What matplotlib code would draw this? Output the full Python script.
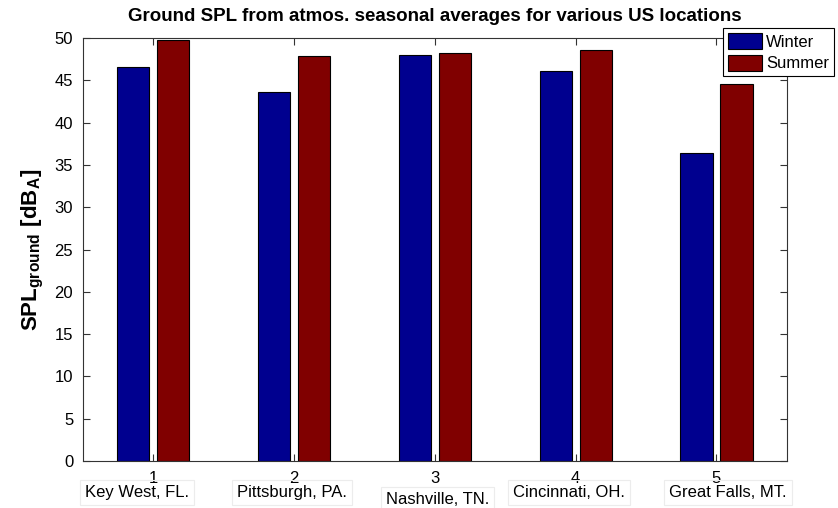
import numpy as np
import matplotlib.pyplot as plt

plt.rcParams['font.family'] = ['Liberation Sans', 'DejaVu Sans']
plt.rcParams['mathtext.fontset'] = 'custom'
plt.rcParams['mathtext.bf'] = 'Liberation Sans:bold'
plt.rcParams['mathtext.rm'] = 'Liberation Sans'

sites = ['Key West, FL.', 'Pittsburgh, PA.', 'Nashville, TN.', 'Cincinnati, OH.', 'Great Falls, MT.']
winter = [46.6, 43.6, 48.0, 46.1, 36.4]
summer = [49.8, 47.9, 48.2, 48.6, 44.6]

x = np.arange(1, len(sites) + 1)
w = 0.228
off = 0.142

fig = plt.figure(figsize=(8.38, 5.08), dpi=100)
ax = fig.add_axes([0.099, 0.0925, 0.840, 0.8327])

ax.bar(x - off, winter, w, color='#00008F', edgecolor='black', linewidth=0.8, label='Winter')
ax.bar(x + off, summer, w, color='#800000', edgecolor='black', linewidth=0.8, label='Summer')

ax.set_xlim(0.5, 5.5)
ax.set_ylim(0, 50)
ax.set_xticks(x)
ax.set_yticks(np.arange(0, 51, 5))
ax.tick_params(direction='in', top=True, right=True, labelsize=12, length=5, width=0.8,
               pad=7, colors='#333333', labelcolor='black')
for s in ax.spines.values():
    s.set_color('#333333')
    s.set_linewidth(0.8)

ax.set_title('Ground SPL from atmos. seasonal averages for various US locations',
             fontsize=13.5, fontweight='bold', pad=12)
ax.set_ylabel(r'$\mathbf{SPL_{ground}\ [dB_A]}$', fontsize=16, labelpad=6)

# site names placed under the tick numbers (left edge, height)
lx = [0.516, 1.597, 2.650, 3.553, 4.663]
ly = [-3.7, -3.7, -4.55, -3.7, -3.7]
for xi, yi, name in zip(lx, ly, sites):
    ax.text(xi, yi, name, ha='left', va='center', fontsize=12, clip_on=False,
            bbox=dict(boxstyle='square,pad=0.3', facecolor='none', edgecolor='#ececec', linewidth=0.8))

leg = ax.legend(loc='upper right', bbox_to_anchor=(0.995, 0.945), bbox_transform=fig.transFigure,
                fancybox=False, edgecolor='black', fontsize=12, borderaxespad=0,
                handlelength=2.0, handleheight=1.1, handletextpad=0.25, borderpad=0.3, labelspacing=0.3,
                framealpha=1)
leg.get_frame().set_linewidth(0.8)

fig.savefig('out.png')
